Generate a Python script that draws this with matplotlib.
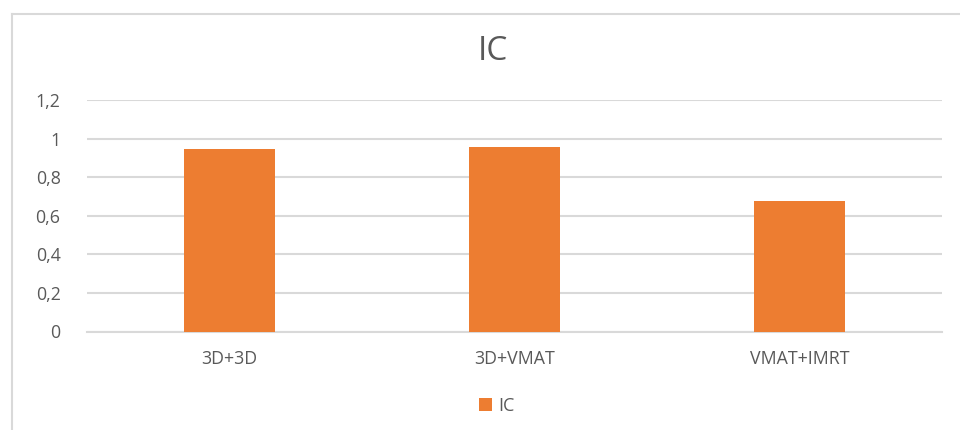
import matplotlib.pyplot as plt
from matplotlib.lines import Line2D
from matplotlib.ticker import FuncFormatter

# Données
categories = ["3D+3D", "3D+VMAT", "VMAT+IMRT"]
ic_values = [0.946, 0.955, 0.677]
y_ticks = [0, 0.2, 0.4, 0.6, 0.8, 1.0, 1.2]

ORANGE = "#ED7D31"
GRID = "#D9D9D9"
TEXT = "#595959"

plt.rcParams["font.family"] = ["Open Sans", "DejaVu Sans"]

fig = plt.figure(figsize=(9.6, 4.3), dpi=100)
ax = fig.add_axes([87 / 960, 1 - 331.5 / 430, (942 - 87) / 960, (331.5 - 100) / 430])

x = range(len(categories))
ax.bar(x, ic_values, width=0.316, color=ORANGE, label="IC", zorder=3)

ax.set_xlim(-0.5, len(categories) - 0.5)
ax.set_ylim(0, 1.2)
ax.set_yticks(y_ticks)
ax.yaxis.set_major_formatter(FuncFormatter(lambda v, p: f"{v:g}".replace(".", ",")))
ax.set_xticks(list(x))
ax.set_xticklabels(categories)

ax.grid(axis="y", color=GRID, linewidth=1.5, zorder=0)
for side in ("top", "right", "left"):
    ax.spines[side].set_visible(False)
ax.spines["bottom"].set_color(GRID)
ax.spines["bottom"].set_linewidth(1.5)
ax.tick_params(axis="both", length=0, colors=TEXT, labelsize=12.8)
ax.tick_params(axis="y", pad=19)
ax.tick_params(axis="x", pad=13)

fig.text(493 / 960, 1 - 52 / 430, "IC", ha="center", va="center",
         fontsize=24, color=TEXT)

ax.legend(loc="center", bbox_to_anchor=(497 / 960, 1 - 406 / 430),
          bbox_transform=fig.transFigure, frameon=False, fontsize=13,
          handlelength=0.7, handleheight=0.7, handletextpad=0.4,
          labelcolor=TEXT)

# Cadre du graphique
fig.add_artist(Line2D([12 / 960, 12 / 960], [1 - 14 / 430, 0], color=GRID,
                      linewidth=1.5, transform=fig.transFigure))
fig.add_artist(Line2D([12 / 960, 1], [1 - 14 / 430, 1 - 14 / 430], color=GRID,
                      linewidth=1.5, transform=fig.transFigure))

fig.savefig("out.png", dpi=100)
